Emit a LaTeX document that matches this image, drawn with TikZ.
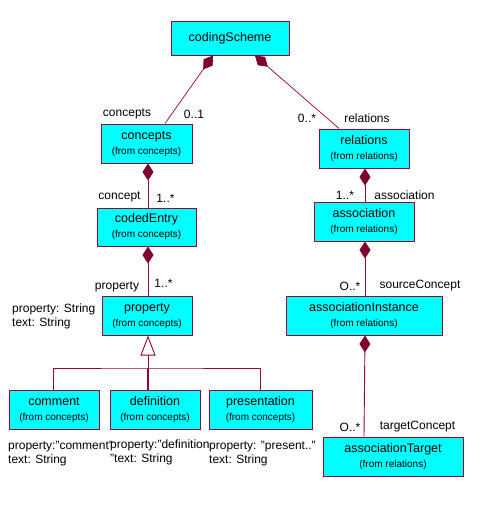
\documentclass[tikz,border=0pt]{standalone}
\usepackage{fontspec}
\setmainfont{Liberation Sans}
\usetikzlibrary{arrows.meta}
\definecolor{umlcyan}{RGB}{0,255,255}
\definecolor{umlred}{RGB}{153,0,51}
\definecolor{umldark}{RGB}{128,0,48}
\newcommand{\pkg}[1]{{\fontsize{10}{12}\selectfont(from #1)}}
\tikzset{
  cls/.style={draw=umlred, line width=1pt, fill=umlcyan, minimum height=39pt,
    align=center, inner sep=0pt, font=\fontsize{12.5}{15}\selectfont},
  lbl/.style={inner sep=0pt, font=\fontsize{12}{14}\selectfont},
  note/.style={inner sep=0pt, anchor=west, align=left, font=\fontsize{12}{14}\selectfont},
  link/.style={draw=umlred, line width=0.9pt},
  comp/.style={link, {Diamond[length=17pt,width=11pt,fill=umldark,color=umldark]}-},
  gen/.style={link, {Triangle[open,length=20pt,width=15pt,fill=white]}-}
}
\begin{document}
\begin{tikzpicture}[x=1pt, y=-1pt]
  \useasboundingbox[fill=white] (0,0) rectangle (492,512);

  \node[cls, minimum width=118pt, minimum height=34pt] (scheme) at (230,38) {codingScheme};
  \node[cls, minimum width=91pt] (concepts) at (146.5,143.5) {concepts\\\pkg{concepts}};
  \node[cls, minimum width=99pt, minimum height=38pt] (entry) at (146.5,227) {codedEntry\\\pkg{concepts}};
  \node[cls, minimum width=90pt] (property) at (147,315.5) {property\\\pkg{concepts}};
  \node[cls, minimum width=90pt] (comment) at (54,409.5) {comment\\\pkg{concepts}};
  \node[cls, minimum width=90pt] (definition) at (155,409.5) {definition\\\pkg{concepts}};
  \node[cls, minimum width=103pt] (presentation) at (260.5,409.5) {presentation\\\pkg{concepts}};
  \node[cls, minimum width=90pt] (relations) at (364,148.5) {relations\\\pkg{relations}};
  \node[cls, minimum width=100pt] (association) at (364,221.5) {association\\\pkg{relations}};
  \node[cls, minimum width=156pt] (instance) at (364,315.5) {associationInstance\\\pkg{relations}};
  \node[cls, minimum width=140pt] (target) at (393,456.5) {associationTarget\\\pkg{relations}};

  \draw[comp, line width=0.7pt] ([xshift=-17pt]scheme.south) -- ([xshift=18.5pt]concepts.north);
  \draw[comp, line width=0.7pt] ([xshift=25pt]scheme.south) -- ([xshift=-25pt]relations.north);
  \draw[comp] ([xshift=1.5pt]concepts.south) -- ([xshift=1.5pt]entry.north);
  \draw[comp] ([xshift=1.5pt]entry.south) -- ([xshift=1pt]property.north);
  \draw[comp] ([xshift=1pt]relations.south) -- ([xshift=1pt]association.north);
  \draw[comp] ([xshift=1pt]association.south) -- ([xshift=1pt]instance.north);
  \draw[comp] ([xshift=1pt]instance.south) -- (instance.south |- target.north);

  \coordinate (fork) at (148,368);
  \draw[gen] ([xshift=1pt]property.south) -- (fork);
  \draw[link] ([xshift=-1pt]comment.north) |- (fork) -| (presentation.north);
  \draw[link, line width=2pt] (fork) -- (fork |- definition.north);

  \node[lbl] (l1) at (127,114) {concepts};
  \node[lbl] (l2) at (194,114) {0..1};
  \node[lbl] (l3) at (307,118) {0..*};
  \node[lbl] (l4) at (367,118) {relations};
  \node[lbl] (l5) at (119.5,197) {concept};
  \node[lbl] (l6) at (165.5,198) {1..*};
  \node[lbl] (l7) at (345,195) {1..*};
  \node[lbl] (l8) at (404.5,195) {association};
  \node[lbl] (l9) at (117,287) {property};
  \node[lbl] (l10) at (163.5,283) {1..*};
  \node[lbl] (l11) at (350,286) {O..*};
  \node[lbl] (l12) at (420,286) {sourceConcept};
  \node[lbl] (l13) at (350,427) {O..*};
  \node[lbl] (l14) at (417.5,427) {targetConcept};

  \node[note] (n1) at (12,316) {property: String\\text: String};
  \node[note] (n2) at (8,454) {property:"comment"\\text: String};
  \node[note] (n3) at (110,452) {property:"definition\\"text: String};
  \node[note] (n4) at (209,454) {property: "present.."\\text: String};
\end{tikzpicture}
\end{document}
